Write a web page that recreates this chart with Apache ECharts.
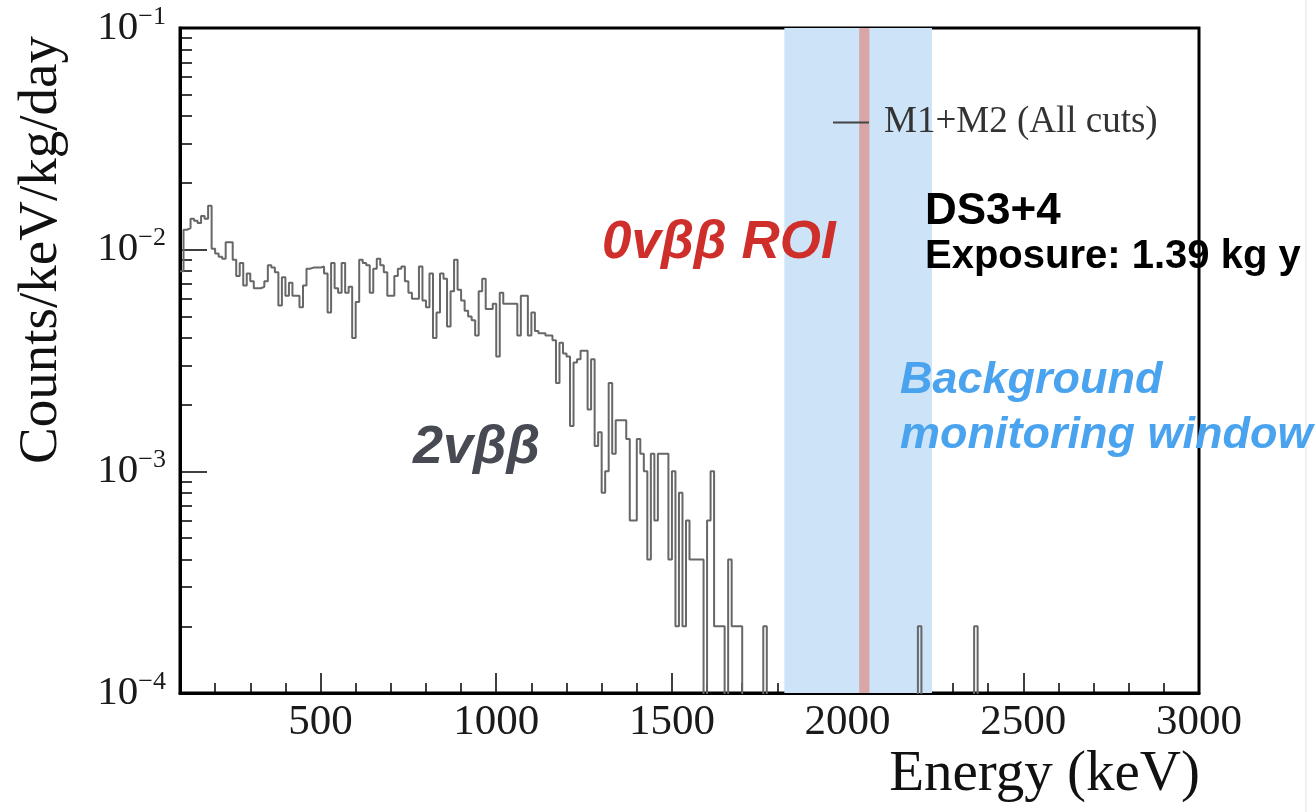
<!DOCTYPE html>
<html lang="en">
<head>
	<meta charset="UTF-8">
	<script src="https://cdn.jsdelivr.net/npm/echarts@6/dist/echarts.min.js"></script>
	<title>DS3+4 spectrum</title>
	<style>
		html, body {margin: 0; padding: 0; background: #fff;}
	</style>
</head>
<body>
<div id="main" style="width: 1315px;height:812px;"></div>
<script type="text/javascript">
	// histogram: 10 keV bins starting at 100 keV (counts/keV/kg/day), 0 = empty bin
	var binStart = 100;
	var binWidth = 10;
	var binValues = [
		0.0080, 0.0123, 0.0125, 0.0138, 0.0135, 0.0132, 0.0142, 0.0138, 0.0158, 0.0101,
		0.0096, 0.0093, 0.0091, 0.0108, 0.0108, 0.0090, 0.0076, 0.0087, 0.0069, 0.0078,
		0.0072, 0.0067, 0.0067, 0.0068, 0.0072, 0.0085, 0.0083, 0.0079, 0.0056, 0.0075,
		0.0062, 0.0071, 0.0062, 0.0062, 0.0055, 0.0069, 0.0082, 0.0083, 0.0083, 0.0083,
		0.0084, 0.0078, 0.0052, 0.0087, 0.0067, 0.0064, 0.0087, 0.0064, 0.0068, 0.0040,
		0.0058, 0.0090, 0.0087, 0.0085, 0.0064, 0.0082, 0.0091, 0.0085, 0.0079, 0.0062,
		0.0062, 0.0076, 0.0082, 0.0084, 0.0072, 0.0064, 0.0060, 0.0060, 0.0084, 0.0059,
		0.0055, 0.0078, 0.0040, 0.0052, 0.0078, 0.0074, 0.0045, 0.0065, 0.0090, 0.0066,
		0.0059, 0.0053, 0.0050, 0.0048, 0.0041, 0.0065, 0.0074, 0.0054, 0.0054, 0.0057,
		0.0033, 0.0064, 0.0057, 0.0057, 0.0057, 0.0057, 0.0041, 0.0062, 0.0062, 0.0041,
		0.0052, 0.0043, 0.0042, 0.0042, 0.0041, 0.0041, 0.0039, 0.0025, 0.0038, 0.0034,
		0.0033, 0.0016, 0.0031, 0.0032, 0.0035, 0.0035, 0.0019, 0.0032, 0.0013, 0.0015,
		0.0008, 0.0010, 0.0025, 0.0012, 0.0017, 0.0017, 0.0017, 0.0014, 0.0006, 0.0006,
		0.0014, 0.0012, 0.0010, 0.0004, 0.0012, 0.0006, 0.0012, 0.0012, 0.0012, 0.0004,
		0.0010, 0.0002, 0.0008, 0.0002, 0.0006, 0.0004, 0.0004, 0.0004, 0.0004, 0,
		0.0006, 0.0010, 0.0002, 0.0002, 0.0002, 0, 0.0004, 0.0002, 0.0002, 0.0002
	];
	// isolated single events above the continuum (bin low edge, value)
	var tailBins = [1760, 2200, 2360];
	var tailValues = [0.0002, 0.0002, 0.0002];

	var bgWindow = [1820, 2240];   // background monitoring window
	var roiWindow = [2033, 2062];  // 0vbb ROI

	var xMajorTicks = [500, 1000, 1500, 2000, 2500, 3000];
	var xMinorTicks = [200, 300, 400, 600, 700, 800, 900, 1100, 1200, 1300, 1400,
		1600, 1700, 1800, 1900, 2100, 2200, 2300, 2400, 2600, 2700, 2800, 2900];
	var yMinorTicks = [2e-4, 3e-4, 4e-4, 5e-4, 6e-4, 7e-4, 8e-4, 9e-4,
		2e-3, 3e-3, 4e-3, 5e-3, 6e-3, 7e-3, 8e-3, 9e-3,
		2e-2, 3e-2, 4e-2, 5e-2, 6e-2, 7e-2, 8e-2, 9e-2];

	var FLOOR = 1e-6; // empty bins are drawn below the axis and clipped
	var histData = [];
	binValues.forEach(function (v, k) {
		histData.push([binStart + k * binWidth, v > 0 ? v : FLOOR]);
	});
	histData.push([binStart + binValues.length * binWidth, FLOOR]);
	tailBins.forEach(function (e, i) {
		histData.push([e, tailValues[i]]);
		histData.push([e + binWidth, FLOOR]);
	});
	histData.push([3000, FLOOR]);

	var serif = '"Liberation Serif", "DejaVu Serif", serif';
	var sans = '"Liberation Sans", Arial, sans-serif';

	var chart = echarts.init(document.getElementById('main'));
	var option = {
		animation: false,
		backgroundColor: '#fff',
		grid: {
			left: 180, right: 116, top: 28, bottom: 119,
			show: true, borderColor: '#000', borderWidth: 3, backgroundColor: 'transparent'
		},
		legend: {
			data: [{name: 'M1+M2 (All cuts)', icon: 'rect'}],
			left: 828, top: 99,
			itemWidth: 36, itemHeight: 2,
			itemStyle: {color: '#444'},
			selectedMode: false,
			textStyle: {fontFamily: serif, fontSize: 37, color: '#333', padding: [0, 0, 0, 10]}
		},
		xAxis: [{
			type: 'value', min: 100, max: 3000,
			axisLine: {lineStyle: {color: '#000', width: 3}},
			axisTick: {inside: true, length: 20, customValues: xMajorTicks, lineStyle: {color: '#000', width: 1.5}},
			axisLabel: {
				customValues: xMajorTicks, margin: 8, fontFamily: serif, fontSize: 43, color: '#1a1a1a',
				formatter: function (v) { return String(v); }
			},
			splitLine: {show: false}
		}, {
			type: 'value', min: 100, max: 3000, position: 'bottom',
			axisLine: {show: false},
			axisTick: {inside: true, length: 10, customValues: xMinorTicks, lineStyle: {color: '#000', width: 1.5}},
			axisLabel: {show: false},
			splitLine: {show: false}
		}],
		yAxis: [{
			type: 'log', logBase: 10, min: 1e-4, max: 1e-1,
			axisLine: {show: true, lineStyle: {color: '#000', width: 3}},
			axisTick: {inside: true, length: 27, lineStyle: {color: '#000', width: 1.5}},
			axisLabel: {
				margin: 14,
				formatter: function (v) {
					var e = Math.round(Math.log10(v));
					return '{b|10}{e|\u2212' + Math.abs(e) + '}';
				},
				rich: {
					b: {fontFamily: serif, fontSize: 41, color: '#1a1a1a', lineHeight: 48},
					e: {fontFamily: serif, fontSize: 26, color: '#1a1a1a', lineHeight: 22, verticalAlign: 'top'}
				}
			},
			splitLine: {show: false}
		}, {
			type: 'log', logBase: 10, min: 1e-4, max: 1e-1, position: 'left',
			axisLine: {show: false},
			axisTick: {inside: true, length: 12, customValues: yMinorTicks, lineStyle: {color: '#000', width: 1.5}},
			axisLabel: {show: false},
			splitLine: {show: false}
		}],
		series: [{
			type: 'line',
			data: [],
			silent: true,
			z: 1,
			markArea: {
				silent: true,
				data: [
					[{xAxis: bgWindow[0], itemStyle: {color: '#cde3f7'}}, {xAxis: bgWindow[1]}],
					[{xAxis: roiWindow[0], itemStyle: {color: '#d8a6a6'}}, {xAxis: roiWindow[1]}]
				]
			}
		}, {
			name: 'M1+M2 (All cuts)',
			type: 'line',
			step: 'end',
			data: histData,
			symbol: 'none',
			clip: true,
			z: 3,
			lineStyle: {color: '#676767', width: 2}
		}],
		graphic: [
			{type: 'line', z: 100, shape: {x1: 1306, y1: 0, x2: 1306, y2: 812}, style: {stroke: '#e2e2e2', lineWidth: 1}},
			{type: 'text', z: 100, x: 42, y: 250, rotation: Math.PI / 2,
				style: {text: 'Counts/keV/kg/day', font: '55px ' + serif, fill: '#111', align: 'center', verticalAlign: 'middle'}},
			{type: 'text', z: 100, x: 1200, y: 775,
				style: {text: 'Energy (keV)', font: '57px ' + serif, fill: '#111', align: 'right', verticalAlign: 'middle'}},
			{type: 'text', z: 100, x: 602, y: 243,
				style: {text: '0v\u03b2\u03b2 ROI', font: 'italic bold 53px ' + sans, fill: '#cf2f2a', align: 'left', verticalAlign: 'middle'}},
			{type: 'text', z: 100, x: 413, y: 448,
				style: {text: '2v\u03b2\u03b2', font: 'italic bold 54px ' + sans, fill: '#474a52', align: 'left', verticalAlign: 'middle'}},
			{type: 'text', z: 100, x: 925, y: 212,
				style: {text: 'DS3+4', font: 'bold 44px ' + sans, fill: '#000', align: 'left', verticalAlign: 'middle'}},
			{type: 'text', z: 100, x: 925, y: 257,
				style: {text: 'Exposure: 1.39 kg y', font: 'bold 40px ' + sans, fill: '#000', align: 'left', verticalAlign: 'middle'}},
			{type: 'text', z: 100, x: 900, y: 381,
				style: {text: 'Background', font: 'italic bold 45px ' + sans, fill: '#4aa3ee', align: 'left', verticalAlign: 'middle'}},
			{type: 'text', z: 100, x: 900, y: 436,
				style: {text: 'monitoring window', font: 'italic bold 45px ' + sans, fill: '#4aa3ee', align: 'left', verticalAlign: 'middle'}}
		]
	};
	chart.setOption(option);
</script>
</body>
</html>
